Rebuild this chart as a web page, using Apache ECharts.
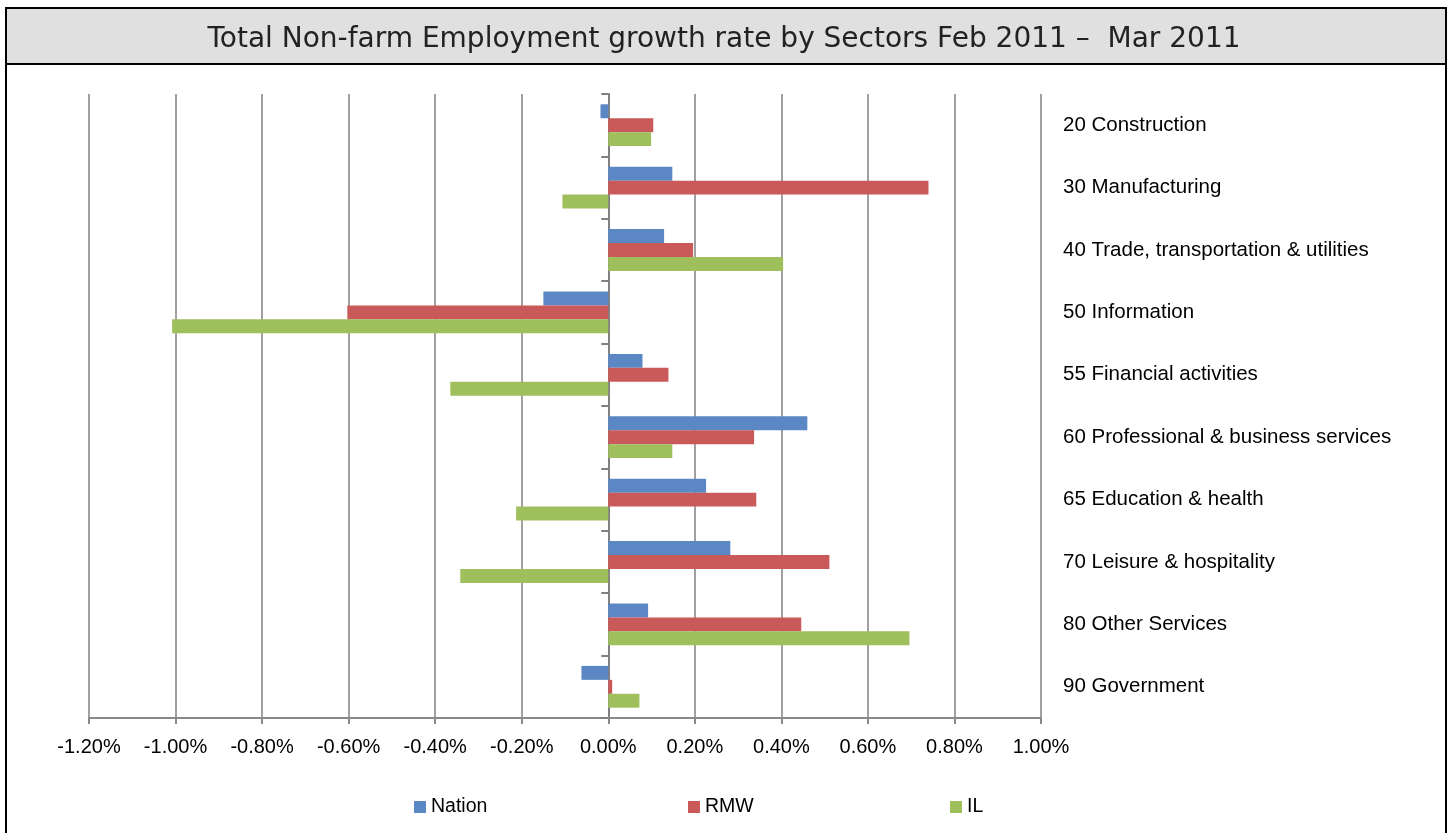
<!DOCTYPE html>
<html><head><meta charset="utf-8">
<script src="https://cdn.jsdelivr.net/npm/echarts@6/dist/echarts.min.js"></script>
<style>html,body{margin:0;padding:0;background:#fff}#c{width:1448px;height:833px}</style>
</head><body><div id="c"></div>
<script>
const titleText = 'Total Non-farm Employment growth rate by Sectors Feb 2011 \u2013  Mar 2011';
const categories = ['20 Construction','30 Manufacturing','40 Trade, transportation & utilities','50 Information','55 Financial activities','60 Professional & business services','65 Education & health','70 Leisure & hospitality','80 Other Services','90 Government'];
const nation = [-0.018, 0.148, 0.129, -0.150, 0.079, 0.460, 0.226, 0.282, 0.092, -0.062];
const rmw    = [0.104, 0.740, 0.196, -0.603, 0.139, 0.337, 0.342, 0.511, 0.446, 0.009];
const il     = [0.099, -0.106, 0.404, -1.008, -0.365, 0.148, -0.213, -0.342, 0.696, 0.072];
const xTicks = {min: -1.2, max: 1.0, interval: 0.2};
const seriesNames = ['Nation','RMW','IL'];
const colors = ['#5b88c4','#c95a59','#9fbf5d'];

const chart = echarts.init(document.getElementById('c'));
const lab = {fontFamily:'Liberation Sans', color:'#000'};
const legendPos = [409, 683, 945];
chart.setOption({
  animation:false,
  graphic:[
    {type:'rect', shape:{x:6,y:8,width:1440,height:840}, style:{fill:'none',stroke:'#000',lineWidth:2}, z:0},
    {type:'rect', shape:{x:6,y:8,width:1440,height:56}, style:{fill:'#e0e0e0',stroke:'#000',lineWidth:2}, z:0}
  ],
  title:{text:titleText, left:'center', top:21, textStyle:{fontFamily:'DejaVu Sans', fontSize:28, fontWeight:'normal', color:'#222'}},
  grid:{left:89, right:407, top:94, bottom:115},
  legend: seriesNames.map((n,i)=>({data:[n], left:legendPos[i], top:792, icon:'rect', itemWidth:12, itemHeight:12, itemGap:6, textStyle:{fontFamily:'Liberation Sans', fontSize:19.5, color:'#000'}})),
  xAxis:{type:'value', min:xTicks.min, max:xTicks.max, interval:xTicks.interval,
    axisLine:{show:true, lineStyle:{color:'#8a8a8a', width:2}},
    axisTick:{show:true, length:6, lineStyle:{color:'#8a8a8a', width:2}},
    splitLine:{show:true, lineStyle:{color:'#a0a0a0', width:2}},
    axisLabel:{...lab, fontSize:20, margin:19, formatter:v=>v.toFixed(2)+'%'}},
  yAxis:[
    {type:'category', data:categories, inverse:true,
     axisLine:{show:true, onZero:true, lineStyle:{color:'#808080', width:2}},
     axisTick:{show:true, length:7, lineStyle:{color:'#808080', width:2}},
     axisLabel:{show:false}},
    {type:'category', data:categories, inverse:true, position:'right',
     axisLine:{show:false}, axisTick:{show:false},
     axisLabel:{...lab, fontSize:20.5, margin:22, align:'left'}}
  ],
  series: [nation, rmw, il].map((d,i)=>({type:'bar', name:seriesNames[i], data:d, yAxisIndex:0,
     barGap:'0%', barCategoryGap:'33%', itemStyle:{color:colors[i]}}))
});
</script></body></html>
